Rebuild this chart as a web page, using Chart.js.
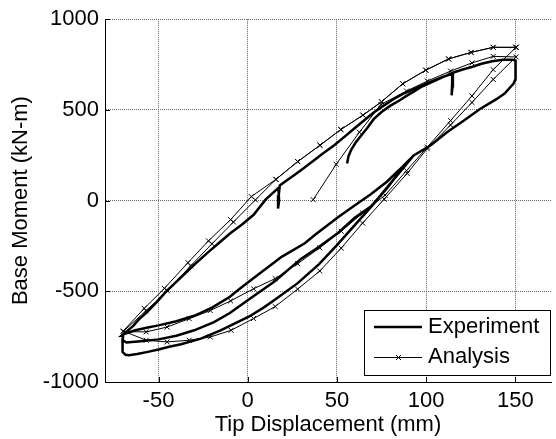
<!DOCTYPE html>
<html>
<head>
<meta charset="utf-8">
<script src="https://cdn.jsdelivr.net/npm/chart.js@4/dist/chart.umd.min.js"></script>
<style>
html, body { margin: 0; padding: 0; background: #fff; }
</style>
</head>
<body>
<canvas id="hystChart" width="556" height="439"></canvas>
<script>
// axis ticks
const xTicks = [-50, 0, 50, 100, 150];
const yTicks = [-1000, -500, 0, 500, 1000];

// Experiment: [displacement mm, moment kN-m]
const expTail = [[55.7,204],[56.5,245],[58,280],[60.5,320],[63.5,358],[67,400],[70.6,449],[75,488],[79.8,522],[85,552],[89,577],[93,600],[97,625]];
const expTop = [[150,772],[148.3,777],[143,776],[137,768],[131,754],[126,738],[120,721],[115,705],
  [114.6,650],[114.3,580],[114.8,630],[115,700],
  [110,684],[104,661],[98,636],[92.8,613],[87,588],[81.7,559],[76,522],[70.6,486],[65,440],[59.4,395],
  [54,350],[48.3,304],[42.5,262],[37.2,222],[31.5,180],[26,140],[21,105],[18,84],
  [17.4,30],[17,-44],[17.6,0],[17.2,70],
  [10,5],[3.3,-78],[-3,-130],[-9.6,-179],[-16,-232],[-22.6,-288],[-29,-345],[-35.6,-406],[-40.5,-452],
  [-45.7,-501],[-51,-560],[-56.9,-619],[-61,-655],[-64.3,-692],[-67.5,-718],[-69.8,-737]];
const expTip = [[-70.2,-765],[-70.3,-800],[-70,-835],[-68.5,-850]];
const expLoadLow = [[-66.5,-853],[-62,-846],[-56,-834],[-50,-821],[-44,-806],[-37.4,-792],[-26.3,-761],[-15.2,-715],
  [-4,-661],[0.6,-640],[8.9,-590],[15,-548],[28,-455],[40,-350],[50,-245],[60,-135],[70,-25],[80,95],[88,190],[93,249]];
const expLoadMid = [[-70,-770],[-68,-782],[-60,-775],[-50,-765],[-40,-745],[-30,-715],[-18.9,-670],[-10,-620],
  [0.6,-545],[15,-446],[30,-320],[40,-255],[50.6,-178],[60,-95],[69,-33],[78,67],[86,170],[93,249]];
const expLoadUp = [[-63,-715],[-56,-700],[-50,-688],[-40,-665],[-30,-635],[-20,-590],[-10,-530],[-5,-490],
  [0.6,-448],[13.5,-351],[19,-310],[32,-235],[37.6,-190],[50.6,-92],[61.7,-15],[69,35],[78,104],[85,170],[93,249]];
const expRise = [[102.4,304],[111.7,377],[121,440],[130,504],[139.4,559],[144,590],[146.9,622],[149,645],[150,668],[150.3,720],[150,772]];

// Analysis
const anaTopOuter = [[150.4,845],[137.6,845],[125.2,817],[112.6,781],[99.8,719],[86.9,644],[75,545],[64.6,471],
  [52.2,392],[40.5,305],[28,215],[15.8,117]];
const anaLeftA = [[2,22],[-9.6,-105],[-22,-222],[-33.5,-342],[-46.7,-484],[-58,-594],[-69.8,-719]];
const anaLeftB = [[4.3,4],[-8,-118],[-20,-238],[-32,-360],[-45,-497],[-57,-607],[-69.8,-722]];
const anaLoadUp = [[-56.9,-724],[-45.2,-697],[-32.8,-651],[-21,-606],[-9.6,-553],[3.3,-486],[15.4,-430],[28,-348],
  [40.4,-260],[52.4,-169],[64.4,-69],[77,30],[89,165],[100.7,295],[113.7,441],[125.7,577],[137.6,722],[150.4,845]];
const anaLoadLow = [[-56.9,-770],[-45.2,-779],[-32.8,-770],[-21,-752],[-9.3,-715],[3.3,-650],[15.4,-584],[28,-488],
  [40.4,-388],[52.4,-262],[64.4,-124],[76.5,8],[89.4,150],[100.6,286],[113.7,417],[125.7,541],[137.6,668],[150.4,792]];
const anaFinal = [[137.6,795],[125.7,759],[113.7,714],[100.7,659],[89,604],[74.7,530],[62.6,377],[49.6,200],[36.7,5]];

const toXY = arr => arr.map(p => ({ x: p[0], y: p[1] }));
const topRight = expTop.slice(0, 8).reverse();

const expPath = [
  ...expTail, ...topRight, ...expTop, ...expTip, ...expLoadLow, ...expRise,
  ...expTop, ...expLoadMid, ...expRise, ...expTop, ...expLoadUp, ...expRise
];
const anaPath = [
  ...anaTopOuter, ...anaLeftB, ...anaLoadUp, ...anaTopOuter, ...anaLeftA, ...anaLoadLow, ...anaFinal
];

const FONT = 'Liberation Sans, Arial, sans-serif';

// short inner tick marks, MATLAB style
const innerTicks = {
  id: 'innerTicks',
  afterDatasetsDraw(chart) {
    const c = chart.ctx;
    const { left, bottom } = chart.chartArea;
    const sx = chart.scales.x, sy = chart.scales.y;
    c.save();
    c.strokeStyle = '#000';
    c.lineWidth = 1;
    c.beginPath();
    xTicks.forEach(v => {
      const px = Math.round(sx.getPixelForValue(v)) + 0.5;
      c.moveTo(px, bottom); c.lineTo(px, bottom - 5);
    });
    yTicks.forEach(v => {
      const py = Math.round(sy.getPixelForValue(v)) + 0.5;
      c.moveTo(left, py); c.lineTo(left + 5, py);
    });
    c.stroke();
    c.restore();
  }
};

// legend box inside the axes
const boxLegend = {
  id: 'boxLegend',
  afterDatasetsDraw(chart) {
    const c = chart.ctx;
    const ds = chart.data.datasets;
    c.save();
    c.fillStyle = '#fff';
    c.strokeStyle = '#000';
    c.lineWidth = 1;
    c.fillRect(364.5, 310.5, 186, 65);
    c.strokeRect(364.5, 310.5, 186, 65);

    c.lineWidth = 2.5;
    c.beginPath(); c.moveTo(374, 327); c.lineTo(422, 327); c.stroke();

    c.lineWidth = 1;
    c.beginPath(); c.moveTo(374, 357.5); c.lineTo(422, 357.5); c.stroke();
    c.beginPath();
    c.moveTo(396, 355); c.lineTo(401, 360);
    c.moveTo(401, 355); c.lineTo(396, 360);
    c.stroke();

    c.fillStyle = '#000';
    c.font = '22px ' + FONT;
    c.textBaseline = 'middle';
    c.textAlign = 'left';
    c.fillText(ds[0].label, 428, 327);
    c.fillText(ds[1].label, 428, 357);
    c.restore();
  }
};

const ctx = document.getElementById('hystChart').getContext('2d');

const hystChart = new Chart(ctx, {
  type: 'line',
  data: {
    datasets: [{
      label: 'Experiment',
      data: toXY(expPath),
      borderColor: '#000',
      borderWidth: 2.5,
      pointRadius: 0,
      fill: false,
      tension: 0
    }, {
      label: 'Analysis',
      data: toXY(anaPath),
      borderColor: '#000',
      borderWidth: 1,
      pointStyle: 'crossRot',
      pointRadius: 3.5,
      pointBorderWidth: 1,
      pointBorderColor: '#000',
      fill: false,
      tension: 0
    }]
  },
  options: {
    responsive: false,
    animation: false,
    layout: { padding: { top: 16, right: 1, left: 0, bottom: 0 } },
    scales: {
      x: {
        type: 'linear',
        min: -80,
        max: 170,
        afterBuildTicks: s => { s.ticks = xTicks.map(v => ({ value: v })); },
        afterFit: s => { s.height = 57; },
        ticks: { color: '#000', font: { family: FONT, size: 22 }, padding: 6, callback: v => String(v) },
        grid: { color: '#666', drawTicks: false },
        border: { color: '#000', dash: [1, 1] },
        title: {
          display: true,
          text: 'Tip Displacement (mm)',
          color: '#000',
          font: { family: FONT, size: 22 },
          padding: { top: 0, bottom: 1 }
        }
      },
      y: {
        min: -1000,
        max: 1000,
        afterBuildTicks: s => { s.ticks = yTicks.map(v => ({ value: v })); },
        afterFit: s => { s.width = 105; },
        ticks: { color: '#000', font: { family: FONT, size: 22 }, padding: 6, callback: v => String(v) },
        grid: { color: '#666', drawTicks: false },
        border: { color: '#000', dash: [1, 1] },
        title: {
          display: true,
          text: 'Base Moment (kN-m)',
          color: '#000',
          font: { family: FONT, size: 22 },
          padding: { top: 8, bottom: 0 }
        }
      }
    },
    plugins: {
      legend: { display: false },
      tooltip: { enabled: false }
    }
  },
  plugins: [innerTicks, boxLegend]
});
</script>
</body>
</html>
